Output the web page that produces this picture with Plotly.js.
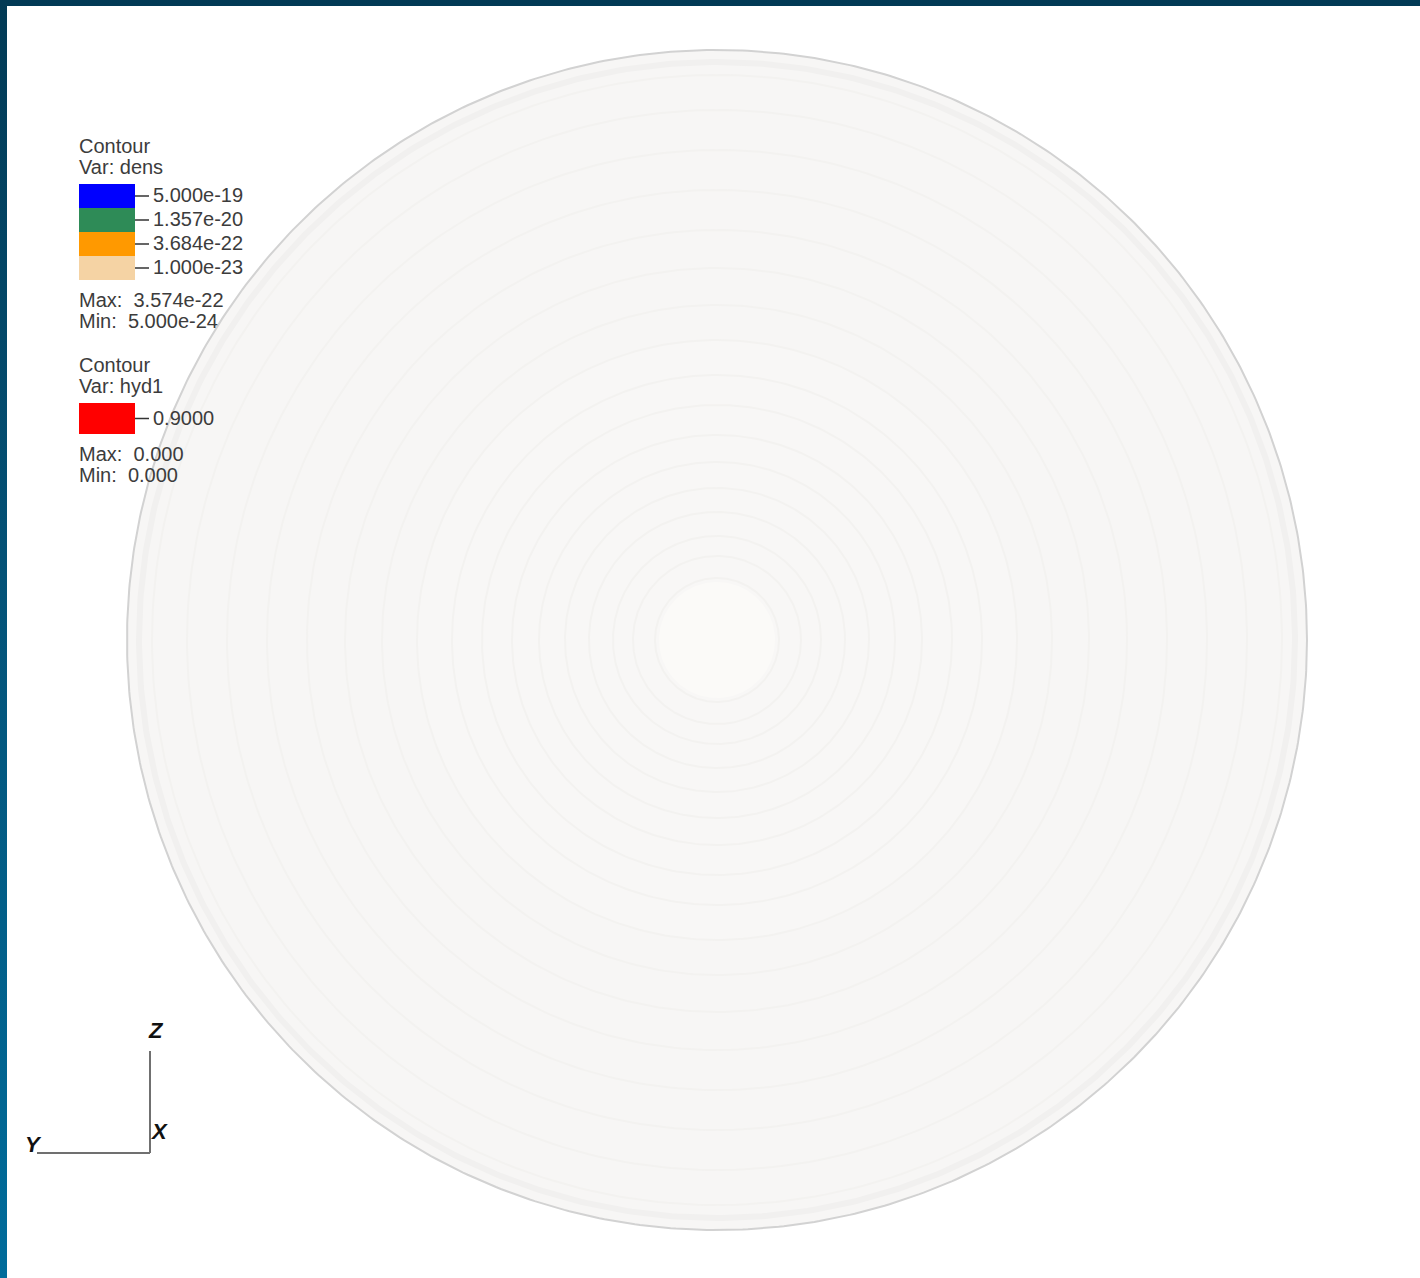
<!DOCTYPE html>
<html>
<head>
<meta charset="utf-8">
<script src="https://cdn.plot.ly/plotly-3.0.1.min.js"></script>
<style>
  html, body { margin: 0; padding: 0; width: 1420px; height: 1278px; overflow: hidden;
    background: linear-gradient(to bottom, #023a55 0%, #045277 45%, #006c9b 100%); }
  #chart { position: absolute; left: 7px; top: 6px; width: 1413px; height: 1272px; background: #ffffff; }
</style>
</head>
<body>
<div id="chart"></div>
<script>
// ---- data ----
const densLevels = ["5.000e-19", "1.357e-20", "3.684e-22", "1.000e-23"];
const densColors = ["#0000ff", "#2e8b57", "#ff9900", "#f5d3a4"];
const densMax = "3.574e-22";
const densMin = "5.000e-24";
const hydLevels = ["0.9000"];
const hydColors = ["#ff0000"];
const hydMax = "0.000";
const hydMin = "0.000";
const ringRadii = [62, 84, 104, 128, 152, 178, 205, 235, 265, 300, 335, 372, 410, 450, 490, 530, 565];
const axisLabels = ["Z", "X", "Y"];

// ---- layout geometry (page pixel coordinates) ----
const cx = 717, cy = 640, R = 590;
function circle(r, n) {
  const xs = [], ys = [];
  for (let i = 0; i <= n; i++) {
    const t = 2 * Math.PI * i / n;
    xs.push(cx + r * Math.cos(t));
    ys.push(cy + r * Math.sin(t));
  }
  return {x: xs, y: ys};
}

const traces = [];
const s = circle(R, 720);
traces.push({type: "scatter", mode: "lines", x: s.x, y: s.y, fill: "toself",
  fillcolor: "#f7f6f5", line: {color: "#d2d2d2", width: 2}, hoverinfo: "skip"});
const inner = circle(R - 12, 720);
traces.push({type: "scatter", mode: "lines", x: inner.x, y: inner.y,
  line: {color: "#f1f0ef", width: 6}, hoverinfo: "skip"});
const mid = circle(300, 400);
traces.push({type: "scatter", mode: "lines", x: mid.x, y: mid.y, fill: "toself",
  fillcolor: "#f8f7f6", line: {width: 0}, hoverinfo: "skip"});
ringRadii.forEach((r, i) => {
  const c = circle(r, 360);
  traces.push({type: "scatter", mode: "lines", x: c.x, y: c.y,
    line: {color: "#f3f2f0", width: 2}, hoverinfo: "skip"});
});
// bright centre
const core = circle(58, 200);
traces.push({type: "scatter", mode: "lines", x: core.x, y: core.y, fill: "toself",
  fillcolor: "#fbfaf8", line: {width: 0}, hoverinfo: "skip"});

const shapes = [], annotations = [];
const font = {family: "Liberation Sans, Arial, sans-serif", size: 20, color: "#3c3c3c"};
function txt(x, y, t, extra) {
  annotations.push(Object.assign({x: x, y: y, xref: "x", yref: "y", text: t, showarrow: false,
    xanchor: "left", yanchor: "middle", font: font}, extra || {}));
}
function legend(top, varName, levels, colors, vmax, vmin, boxH) {
  txt(77, top, "Contour");
  txt(77, top + 21, "Var: " + varName);
  let y0 = top + 38;
  levels.forEach((lv, i) => {
    shapes.push({type: "rect", xref: "x", yref: "y", x0: 79, x1: 135, y0: y0, y1: y0 + boxH,
      fillcolor: colors[i], line: {width: 0}, layer: "above"});
    shapes.push({type: "line", xref: "x", yref: "y", x0: 135, x1: 149, y0: y0 + boxH / 2, y1: y0 + boxH / 2,
      line: {color: "#333333", width: 1.5}, layer: "above"});
    txt(151, y0 + boxH / 2 - 1, lv);
    y0 += boxH;
  });
  txt(77, y0 + 20, "Max:  " + vmax);
  txt(77, y0 + 41, "Min:  " + vmin);
}
legend(146, "dens", densLevels, densColors, densMax, densMin, 24);
legend(365, "hyd1", hydLevels, hydColors, hydMax, hydMin, 31);

// axis triad
shapes.push({type: "line", xref: "x", yref: "y", x0: 150, x1: 150, y0: 1051, y1: 1153,
  line: {color: "#707070", width: 2}, layer: "above"});
shapes.push({type: "line", xref: "x", yref: "y", x0: 37, x1: 150, y0: 1153, y1: 1153,
  line: {color: "#707070", width: 2}, layer: "above"});
const triFont = {family: "Liberation Sans, Arial, sans-serif", size: 22, color: "#111111"};
txt(156, 1030, "<b><i>" + axisLabels[0] + "</i></b>", {xanchor: "center", font: triFont});
txt(159, 1131, "<b><i>" + axisLabels[1] + "</i></b>", {xanchor: "center", font: triFont});
txt(33, 1144, "<b><i>" + axisLabels[2] + "</i></b>", {xanchor: "center", font: triFont});

const layout = {
  width: 1413, height: 1272,
  margin: {l: 0, r: 0, t: 0, b: 0, pad: 0},
  paper_bgcolor: "#ffffff", plot_bgcolor: "#ffffff",
  showlegend: false,
  xaxis: {range: [7, 1420], visible: false, fixedrange: true},
  yaxis: {range: [1278, 6], visible: false, fixedrange: true},
  shapes: shapes, annotations: annotations
};
Plotly.newPlot("chart", traces, layout, {staticPlot: true, displayModeBar: false});
</script>
</body>
</html>
